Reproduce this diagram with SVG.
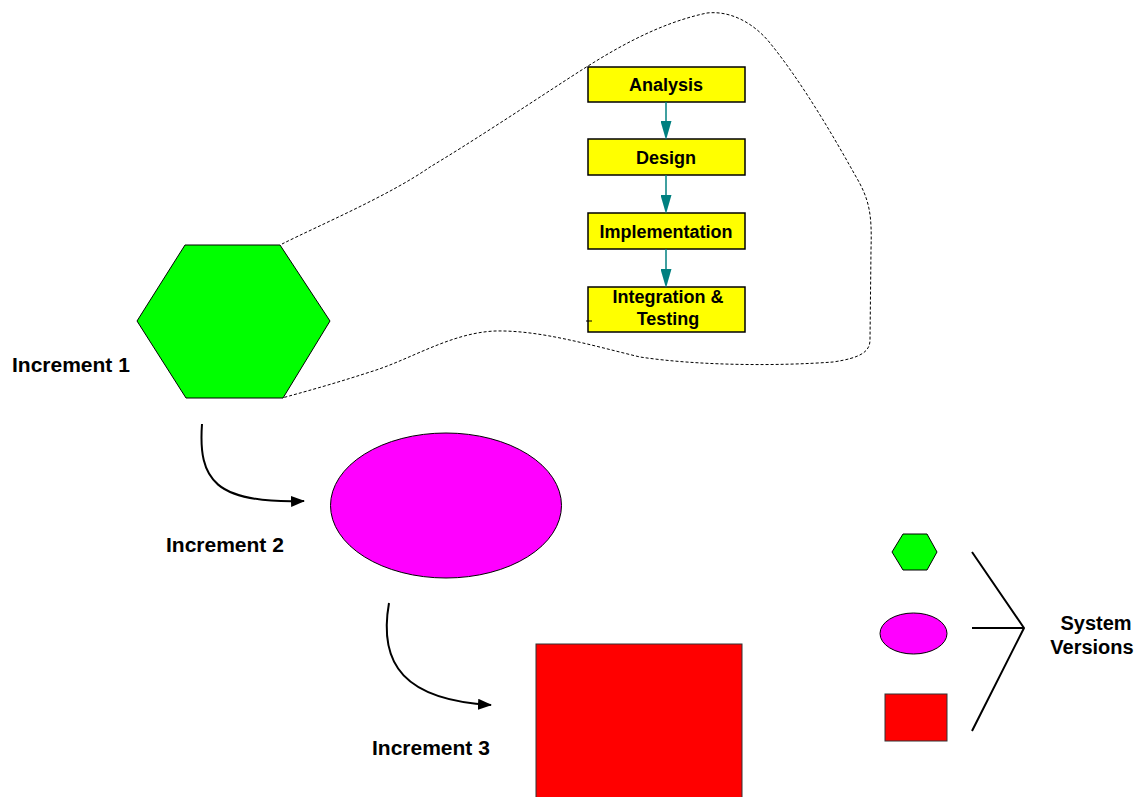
<svg xmlns="http://www.w3.org/2000/svg" width="1148" height="797" viewBox="0 0 1148 797">
<style>
.lbl{font-family:"Liberation Sans",Arial,sans-serif;font-weight:bold;font-size:21px;fill:#000}
.sv{font-family:"Liberation Sans",Arial,sans-serif;font-weight:bold;font-size:20px;fill:#000;text-anchor:middle}
.box{fill:#ffff00;stroke:#000;stroke-width:1.5}
.btxt{font-family:"Liberation Sans",Arial,sans-serif;font-weight:bold;font-size:18px;fill:#000;text-anchor:middle}
.teal{stroke:#008080;stroke-width:1.5;fill:none}
.blk{stroke:#000;stroke-width:2;fill:none}
</style>
<defs>
<marker id="th" markerWidth="19" markerHeight="11" refX="0" refY="5.5" orient="auto" markerUnits="userSpaceOnUse" viewBox="0 0 19 11">
<path d="M0,0 L19,5.5 L0,11 Z" fill="#008080"/>
</marker>
<marker id="bh" markerWidth="14" markerHeight="11" refX="13" refY="5.5" orient="auto" markerUnits="userSpaceOnUse" viewBox="0 0 14 11">
<path d="M0,0 L14,5.5 L0,11 Z" fill="#000"/>
</marker>
</defs>
<rect width="1148" height="797" fill="#fff"/>

<g id="blob">
<path d="M282,244 C320,225 390,195 430,167 C470,143 520,110 560,84 C600,58 650,25 707,13 C735,10 758,28 770,43 C800,80 830,130 855,175 C870,200 872,215 871,250 L870,340 C870,352 860,358 833,362 C780,366 700,366 640,357 C590,345 540,330 495,331 C450,333 410,360 370,372 C330,385 300,393 282,398" fill="none" stroke="#000" stroke-width="1" stroke-dasharray="3,2"/>
</g>

<g id="inc1">
<polygon points="185,245 280,245 330,321 283,398 186,398 137,321" fill="#00ff00" stroke="#000" stroke-width="1"/>
<text class="lbl" x="12" y="372">Increment 1</text>
</g>

<g id="analysis">
<rect class="box" x="588" y="67" width="157" height="35"/>
<text class="btxt" x="666" y="91">Analysis</text>
</g>
<g id="design">
<rect class="box" x="588" y="139" width="157" height="36"/>
<text class="btxt" x="666" y="164">Design</text>
</g>
<g id="implementation">
<rect class="box" x="588" y="213" width="157" height="36"/>
<text class="btxt" x="666" y="238">Implementation</text>
</g>
<g id="integration">
<rect class="box" x="588" y="287" width="157" height="45"/>
<text class="btxt" x="668" y="303">Integration &amp;</text>
<text class="btxt" x="668" y="325">Testing</text>
<line x1="586" y1="321" x2="592" y2="321" stroke="#000" stroke-width="1"/>
</g>

<g id="inc2">
<ellipse cx="446" cy="505.5" rx="115.5" ry="72.5" fill="#ff00ff" stroke="#000" stroke-width="1"/>
<text class="lbl" x="166" y="552">Increment 2</text>
</g>

<g id="inc3">
<rect x="536" y="644" width="206" height="160" fill="#ff0000" stroke="#333" stroke-width="1"/>
<text class="lbl" x="372" y="755">Increment 3</text>
</g>

<g id="versions">
<polygon points="903,534 927,534 937,552 927,570 903,570 892,552" fill="#00ff00" stroke="#000" stroke-width="1"/>
<ellipse cx="913.5" cy="633.5" rx="33.5" ry="20.5" fill="#ff00ff" stroke="#000" stroke-width="1"/>
<rect x="885" y="694" width="62" height="47" fill="#ff0000" stroke="#333" stroke-width="1"/>
<text class="sv" x="1096" y="630">System</text>
<text class="sv" x="1092" y="654">Versions</text>
</g>

<g id="connectors">
<line class="teal" x1="666" y1="102" x2="666" y2="121" marker-end="url(#th)"/>
<line class="teal" x1="666" y1="175" x2="666" y2="195" marker-end="url(#th)"/>
<line class="teal" x1="666" y1="249" x2="666" y2="269" marker-end="url(#th)"/>
<path class="blk" d="M202,424 C198,480 215,504 304,501" marker-end="url(#bh)"/>
<path class="blk" d="M389,603 C378,665 405,700 491,705" marker-end="url(#bh)"/>
<polyline class="blk" points="972,552 1024,628 972,731"/>
<line class="blk" x1="972" y1="628" x2="1024" y2="628"/>
</g>
</svg>
